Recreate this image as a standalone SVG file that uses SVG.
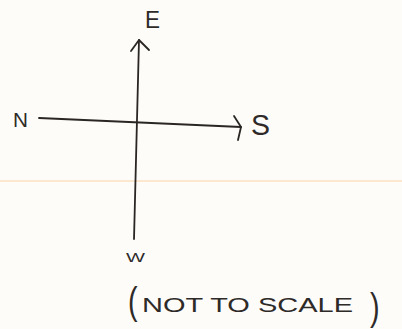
<svg xmlns="http://www.w3.org/2000/svg" width="402" height="329" viewBox="0 0 402 329">
<style>
.ln{fill:none;stroke:#2a2624;stroke-width:1.8;stroke-linecap:round;stroke-linejoin:round}
.lbl{font-family:"Liberation Sans",Arial,sans-serif;fill:#2e2a28;font-weight:normal}
</style>
<rect width="402" height="329" fill="#fdfcf9"/>
<line x1="0" y1="181" x2="402" y2="181" stroke="#fbe8cf" stroke-width="2"/>
<g id="connectors">
<path class="ln" d="M139,40 L134,239"/>
<path class="ln" d="M131,51 L139,40 L149,50"/>
<path class="ln" d="M39,118 L241,127"/>
<path class="ln" d="M234,116 L241,127 L238,140"/>
</g>
<g id="node-E"><text class="lbl" x="145" y="28" font-size="24" textLength="15" lengthAdjust="spacingAndGlyphs">E</text></g>
<g id="node-N"><text class="lbl" x="13" y="127" font-size="21" textLength="15" lengthAdjust="spacingAndGlyphs">N</text></g>
<g id="node-S"><text class="lbl" x="251" y="135" font-size="30" textLength="19" lengthAdjust="spacingAndGlyphs">S</text></g>
<g id="node-W"><text class="lbl" x="126" y="262" font-size="12.5" textLength="19" lengthAdjust="spacingAndGlyphs">W</text></g>
<g id="note">
<text class="lbl" transform="translate(128,314) scale(1.2,1.6)" font-size="24">(</text>
<text class="lbl" x="142" y="312" font-size="21" textLength="211" lengthAdjust="spacingAndGlyphs">NOT TO SCALE</text>
<text class="lbl" transform="translate(370,320) scale(1.2,1.6)" font-size="24">)</text>
</g>
</svg>
